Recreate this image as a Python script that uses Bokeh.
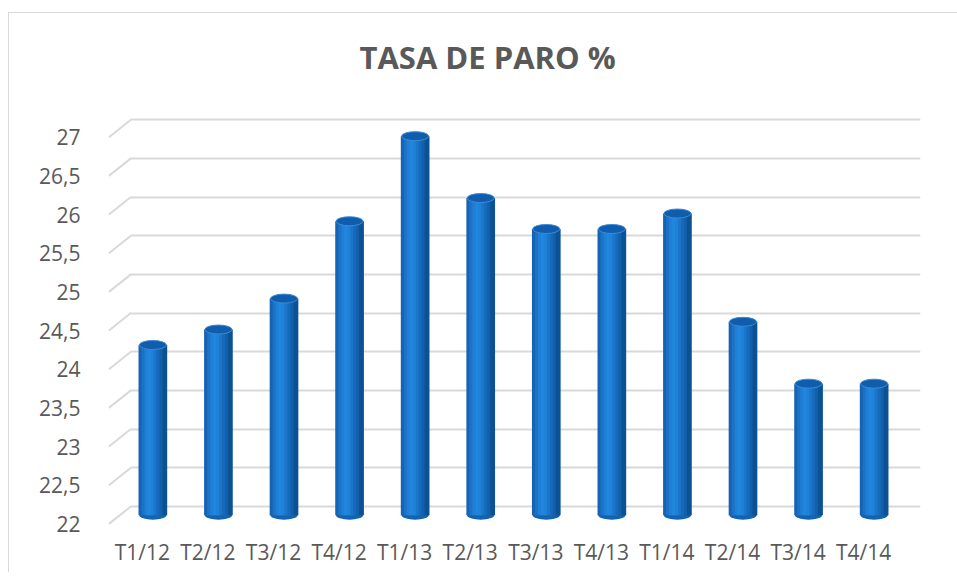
from bokeh.plotting import figure
from bokeh.models import (ColumnDataSource, Range1d, LinearAxis, Grid,
                          FixedTicker, CustomJSTickFormatter)
from bokeh.transform import dodge
from bokeh.embed import file_html
from bokeh.resources import INLINE

# ---- data ----
quarters = ["T1/12", "T2/12", "T3/12", "T4/12", "T1/13", "T2/13",
            "T3/13", "T4/13", "T1/14", "T2/14", "T3/14", "T4/14"]
paro = [24.2, 24.4, 24.8, 25.8, 26.9, 26.1, 25.7, 25.7, 25.9, 24.5, 23.7, 23.7]
y_ticks = [22, 22.5, 23, 23.5, 24, 24.5, 25, 25.5, 26, 26.5, 27]
title_text = "TASA DE PARO %"

BASE = 22.0
Y0, Y1 = 21.75, 27.4
DEPTH = 0.113          # half depth of the 3-D box, in value units
XDEPTH = 0.16          # horizontal half depth, in category units
PAD = 0.207            # category padding

GREY = "#595959"
GRID = "#d9d9d9"
FONT = "Open Sans"

ncat = len(quarters)
centers = [i + 0.5 for i in range(ncat)]   # category slot centres
source = ColumnDataSource(dict(xc=centers, cat=quarters, val=paro))

p = figure(
    x_range=Range1d(-PAD, ncat + PAD),
    y_range=Range1d(Y0, Y1),
    frame_width=814, frame_height=437,
    min_border_left=97, min_border_top=83, min_border_bottom=38, min_border_right=38,
    x_axis_location=None, y_axis_location=None,
    output_backend="svg", toolbar_location=None,
    background_fill_color="white", border_fill_color="white",
    styles={"border-left": f"1px solid {GRID}", "border-top": f"1px solid {GRID}",
            "margin-top": "12px", "margin-left": "8px"},
)
p.outline_line_color = None
for g in list(p.center):
    if isinstance(g, Grid):
        g.visible = False

p.extra_y_ranges = {
    "front": Range1d(Y0 + DEPTH, Y1 + DEPTH),
    "back": Range1d(Y0 - DEPTH, Y1 - DEPTH),
}
p.extra_x_ranges = {
    "front": Range1d(-PAD + XDEPTH, ncat + PAD + XDEPTH),
}

# back wall grid
grid = Grid(dimension=1, ticker=FixedTicker(ticks=y_ticks), y_range_name="back",
            grid_line_color=GRID, grid_line_width=2,
            cross_bounds=(0.165, ncat + PAD))
p.add_layout(grid)

# side wall slanted lines (front edge -> back wall)
p.segment(x0=[-PAD + 0.037] * len(y_ticks), x1=[0.165] * len(y_ticks),
          y0=[t - DEPTH for t in y_ticks], y1=[t + DEPTH for t in y_ticks],
          line_color=GRID, line_width=2)

# left axis on front plane
yax = LinearAxis(y_range_name="front", ticker=FixedTicker(ticks=y_ticks),
                 formatter=CustomJSTickFormatter(code="return tick.toString().replace('.', ',');"))
yax.axis_line_color = None
yax.major_tick_line_color = None
yax.minor_tick_line_color = None
yax.major_label_standoff = 20
yax.major_label_text_font = FONT
yax.major_label_text_font_size = "21px"
yax.major_label_text_color = GREY
p.add_layout(yax, "left")

# bottom axis on front plane
xax = LinearAxis(x_range_name="front",
                 ticker=FixedTicker(ticks=centers),
                 formatter=CustomJSTickFormatter(args=dict(labels=quarters),
                                                 code="return labels[Math.floor(tick)];"))
xax.axis_line_color = None
xax.major_tick_line_color = None
xax.minor_tick_line_color = None
xax.major_label_standoff = -3
xax.major_label_text_font = FONT
xax.major_label_text_font_size = "21px"
xax.major_label_text_color = GREY
p.add_layout(xax, "below")

# cylinders
BAR_W = 0.41
strip_colors = ["#1663b3", "#1b72c6", "#1f7fd6", "#2186dd", "#1f82d8",
                "#1b76ca", "#166abb", "#1160a9", "#0b5194"]
n = len(strip_colors)
sw = BAR_W / n

p.ellipse(x="xc", y=BASE, width=27, height=9, width_units="screen", height_units="screen",
          source=source, fill_color="#1463b2", line_color=None)
for i, c in enumerate(strip_colors):
    off = -BAR_W / 2 + sw * (i + 0.5)
    p.vbar(x=dodge("xc", off), top="val", bottom=BASE,
           width=sw * 1.6, source=source, fill_color=c, line_color=None)
p.ellipse(x="xc", y="val", width=27, height=9, width_units="screen", height_units="screen",
          source=source, fill_color="#0f5dac", line_color="#3b8bd8", line_width=1)

# title
p.title.text = title_text
p.title.text_font = FONT
p.title.text_font_style = "bold"
p.title.text_font_size = "31px"
p.title.text_color = GREY
p.title.align = "left"
p.title.offset = 253
p.title.standoff = 40

open("out.html", "w").write(file_html(p, INLINE))
